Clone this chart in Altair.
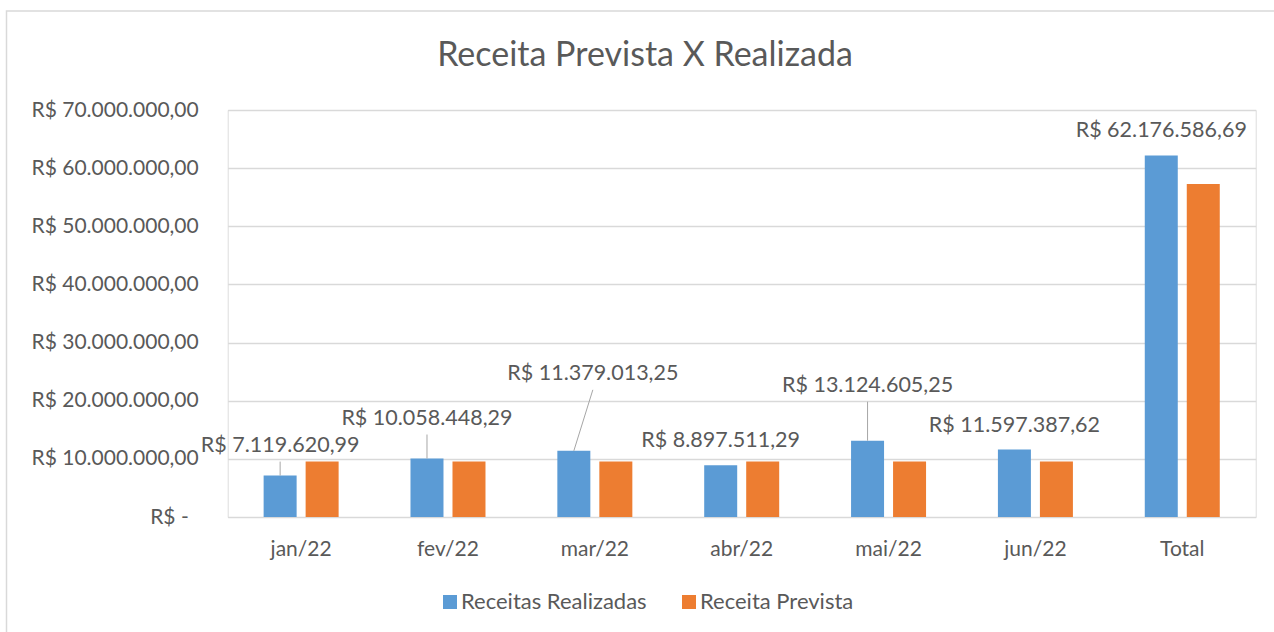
import altair as alt
import pandas as pd

# ---------------- data ----------------
categories = ["jan/22", "fev/22", "mar/22", "abr/22", "mai/22", "jun/22", "Total"]
realizadas = [7119620.99, 10058448.29, 11379013.25, 8897511.29, 13124605.25, 11597387.62, 62176586.69]
previstas = [9543000, 9543000, 9543000, 9543000, 9543000, 9543000, 57258000]
series = ["Receitas Realizadas", "Receita Prevista"]
colors = ["#5B9BD5", "#ED7D31"]
y_ticks = [0, 10000000, 20000000, 30000000, 40000000, 50000000, 60000000, 70000000]

# ---------------- label layout (pixels, presentation only) ----------------
label_lift = [24, 34, 71, 18, 49, 18, 18]   # baseline height above bar top
label_dx = [0, 0, 19, 0, 0, 0, 0]          # horizontal shift of moved labels

# ---------------- geometry ----------------
W, H = 1028, 407
LEFT, TOP = 227.7, 110
YMAX = 70000000
upp = YMAX / H                      # data units per pixel
step = W / len(categories)
bar_w, gap = 33, 9
group_w = 2 * bar_w + gap
pin = 1 - group_w / step
off_pin = gap / (bar_w + gap)
half_pair = (bar_w + gap) / 2

FONT = "Lato"
TXT = "#595959"


def brl(v):
    s = f"{v:,.2f}"
    return "R$ " + s.replace(",", "#").replace(".", ",").replace("#", ".")


bars = pd.DataFrame({
    "cat": categories * 2,
    "serie": [series[0]] * len(categories) + [series[1]] * len(categories),
    "valor": realizadas + previstas,
})

labels = pd.DataFrame({
    "cat": categories,
    "serie": series[0],
    "valor": realizadas,
    "texto": [brl(v) for v in realizadas],
    "lift": label_lift,
    "dx": label_dx,
})
labels["label_y"] = labels["valor"] + labels["lift"] * upp
labels["leader_top"] = labels["label_y"] - 10 * upp

x_enc = alt.X(
    "cat:N", sort=categories,
    scale=alt.Scale(paddingInner=pin, paddingOuter=pin / 2),
    axis=alt.Axis(title=None, labelFontSize=21, labelColor=TXT, labelFont=FONT,
                  labelPadding=21, ticks=False, tickSize=0, domain=False, grid=False,
                  labelAngle=0),
)
xoff_enc = alt.XOffset("serie:N", sort=series,
                       scale=alt.Scale(domain=series, paddingInner=off_pin, paddingOuter=0))

label_expr = ("datum.value == 0 ? 'R$ -' : 'R$ ' + "
              "replace(replace(replace(format(datum.value, ',.2f'), /,/g, '#'), /\\./g, ','), /#/g, '.')")

y_scale = alt.Scale(domain=[0, YMAX], nice=False)

bar_layer = alt.Chart(bars).mark_bar().encode(
    x=x_enc,
    xOffset=xoff_enc,
    y=alt.Y("valor:Q", scale=y_scale,
            axis=alt.Axis(values=y_ticks, labelExpr=label_expr, title=None,
                          grid=True, gridColor="#D9D9D9", gridWidth=1.3,
                          domain=False, ticks=False,
                          labelPadding=alt.condition("datum.value == 0", alt.value(39.5), alt.value(29.5)),
                          labelFontSize=21, labelColor=TXT, labelFont=FONT)),
    color=alt.Color("serie:N",
                    scale=alt.Scale(domain=series, range=colors),
                    legend=alt.Legend(title=None, orient="none", legendX=211.3, legendY=481,
                                      direction="horizontal", symbolType="square",
                                      symbolSize=196, symbolStrokeWidth=0,
                                      labelFontSize=22, labelColor=TXT, labelFont=FONT,
                                      labelLimit=400, columnPadding=31, labelOffset=0,
                                      padding=0)),
)

layers = [bar_layer]

# leader lines (vertical)
lead_v = labels[(labels["lift"] > 20) & (labels["dx"] == 0)]
layers.append(
    alt.Chart(lead_v).mark_rule(color="#A6A6A6", strokeWidth=1).encode(
        x=alt.X("cat:N", sort=categories),
        xOffset=xoff_enc,
        y=alt.Y("valor:Q", scale=y_scale),
        y2="leader_top:Q",
    )
)
# leader lines (slanted, for labels moved sideways)
for d in sorted(set(label_dx)):
    if d == 0:
        continue
    sub = labels[(labels["lift"] > 20) & (labels["dx"] == d)]
    layers.append(
        alt.Chart(sub).mark_rule(color="#A6A6A6", strokeWidth=1, x2Offset=d - half_pair).encode(
            x=alt.X("cat:N", sort=categories),
            xOffset=xoff_enc,
            x2=alt.X2("cat:N"),
            y=alt.Y("valor:Q", scale=y_scale),
            y2="leader_top:Q",
        )
    )

# data labels
for d in sorted(set(label_dx)):
    sub = labels[labels["dx"] == d]
    layers.append(
        alt.Chart(sub).mark_text(dx=d, baseline="alphabetic", align="center",
                                 fontSize=21.5, font=FONT, color=TXT).encode(
            x=alt.X("cat:N", sort=categories),
            xOffset=xoff_enc,
            y=alt.Y("label_y:Q", scale=y_scale),
            text="texto:N",
        )
    )

# chart border (decoration)
border = alt.Chart(pd.DataFrame({"a": [0]})).mark_rect(
    fillOpacity=0, stroke="#D9D9D9", strokeWidth=1.5).encode(
    x=alt.value(6.5 - LEFT), x2=alt.value(1300 - LEFT),
    y=alt.value(11 - TOP), y2=alt.value(660 - TOP),
)
layers.append(border)

chart = alt.layer(*layers).properties(
    width=W, height=H,
    padding={"left": LEFT, "top": TOP, "right": 1274 - LEFT - W, "bottom": 632 - TOP - H},
    autosize=alt.AutoSizeParams(type="none"),
    title=alt.Title("Receita Prevista X Realizada", fontSize=34, font=FONT,
                    fontWeight="normal", color=TXT, anchor="middle", frame="group",
                    dx=-96.7, dy=89.5, baseline="alphabetic", offset=0),
).configure_view(strokeWidth=0).configure(background="white")

chart.save("out.html", embed_options={"renderer": "svg", "actions": False})
